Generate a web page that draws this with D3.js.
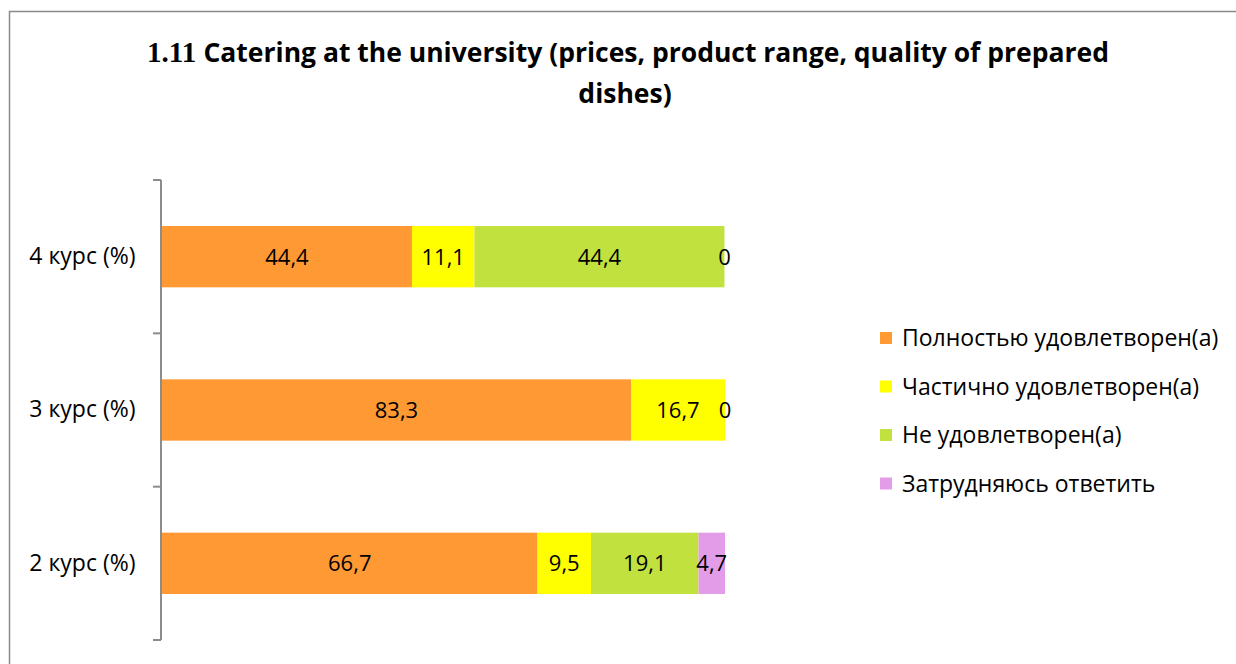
<!DOCTYPE html>
<html>
<head>
<meta charset="utf-8">
<script src="https://cdn.jsdelivr.net/npm/d3@7"></script>
<style>
  body { margin: 0; background: #fff; }
  text { font-family: "Open Sans", sans-serif; }
</style>
</head>
<body>
<script>
const width = 1236;
const height = 664;

const categories = ["4 курс (%)", "3 курс (%)", "2 курс (%)"];
const seriesNames = ["Полностью удовлетворен(а)", "Частично удовлетворен(а)", "Не удовлетворен(а)", "Затрудняюсь ответить"];
const fullySatisfied = [44.4, 83.3, 66.7];
const partlySatisfied = [11.1, 16.7, 9.5];
const notSatisfied = [44.4, 0, 19.1];
const cantSay = [0, null, 4.7];
const colors = ["#FF9933", "#FFFF00", "#C1E13F", "#E39DE8"];

const margin = { top: 180, left: 162, bottom: 24 };
const plotRight = 725;

const svg = d3.select("body").append("svg")
  .attr("width", width)
  .attr("height", height);

// outer chart frame (clipped at right and bottom like the source)
svg.append("rect")
  .attr("x", 9.5).attr("y", 11.5)
  .attr("width", 1300).attr("height", 700)
  .attr("style", "fill: none; stroke: #8a8a8a; stroke-width: 1.5px;");

// title
const title = svg.append("text")
  .attr("text-anchor", "middle")
  .attr("style", "font-size: 26.5px; font-weight: bold; fill: #000;");
title.append("tspan").attr("x", 628).attr("y", 62)
  .attr("style", "font-family: 'Liberation Serif', serif; font-size: 29px;").text("1.11 ");
title.append("tspan").text("Catering at the university (prices, product range, quality of prepared");
svg.append("text")
  .attr("x", 625).attr("y", 103)
  .attr("text-anchor", "middle")
  .attr("style", "font-size: 26.5px; font-weight: bold; fill: #000;")
  .text("dishes)");

const seriesValues = [fullySatisfied, partlySatisfied, notSatisfied, cantSay];
const rows = categories.map((cat, i) => {
  let x0 = 0;
  return {
    cat,
    segs: seriesValues.map((vals, s) => {
      const v = vals[i];
      const seg = { s, v, x0, x1: x0 + (v || 0) };
      x0 = seg.x1;
      return seg;
    })
  };
});

const x = d3.scaleLinear().domain([0, 100]).range([margin.left, plotRight]);
const y = d3.scaleBand().domain(categories)
  .range([margin.top, height - margin.bottom])
  .paddingInner(0.6).paddingOuter(0.3);

const rowG = svg.selectAll(".row")
  .data(rows)
  .enter().append("g")
  .attr("class", "row");

rowG.selectAll("rect")
  .data(d => d.segs.map(s => Object.assign({ cat: d.cat }, s)))
  .enter().append("rect")
  .attr("x", d => x(d.x0))
  .attr("y", d => y(d.cat))
  .attr("width", d => x(d.x1) - x(d.x0))
  .attr("height", y.bandwidth())
  .attr("style", d => `fill: ${colors[d.s]};`);

rowG.selectAll("text")
  .data(d => d.segs.filter(s => s.v !== null).map(s => Object.assign({ cat: d.cat }, s)))
  .enter().append("text")
  .attr("x", d => (x(d.x0) + x(d.x1)) / 2)
  .attr("y", d => y(d.cat) + y.bandwidth() / 2)
  .attr("dy", "0.36em")
  .attr("text-anchor", "middle")
  .attr("style", "font-size: 22px; fill: #000;")
  .text(d => String(d.v).replace(".", ","));

// category axis
const yAxisScale = d3.scaleBand().domain(categories)
  .range([margin.top, height - margin.bottom]);
const axis = svg.append("g")
  .attr("transform", `translate(${margin.left - 0.5},0)`)
  .call(d3.axisLeft(yAxisScale).tickSize(0).tickPadding(26));
axis.select(".domain").remove();
axis.selectAll("text")
  .attr("style", "font-size: 23px; fill: #000; font-family: 'Open Sans', sans-serif;");

const bounds = [margin.top].concat(categories.map(c => yAxisScale(c) + yAxisScale.bandwidth()));
svg.append("line")
  .attr("x1", margin.left - 1).attr("x2", margin.left - 1)
  .attr("y1", bounds[0]).attr("y2", bounds[bounds.length - 1])
  .attr("style", "stroke: #8c8c8c; stroke-width: 2px;");
svg.selectAll(".tick-mark")
  .data(bounds)
  .enter().append("line")
  .attr("x1", margin.left - 9).attr("x2", margin.left - 1)
  .attr("y1", d => d).attr("y2", d => d)
  .attr("style", "stroke: #8c8c8c; stroke-width: 2px;");

// legend
const legend = svg.selectAll(".legend")
  .data(seriesNames)
  .enter().append("g")
  .attr("class", "legend")
  .attr("transform", (d, i) => `translate(880,${338 + i * 48.5})`);
legend.append("rect")
  .attr("x", 0).attr("y", -6)
  .attr("width", 12).attr("height", 12)
  .attr("style", (d, i) => `fill: ${colors[i]};`);
legend.append("text")
  .attr("x", 22).attr("dy", "0.36em")
  .attr("style", "font-size: 23px; fill: #000;")
  .text(d => d);
</script>
</body>
</html>
